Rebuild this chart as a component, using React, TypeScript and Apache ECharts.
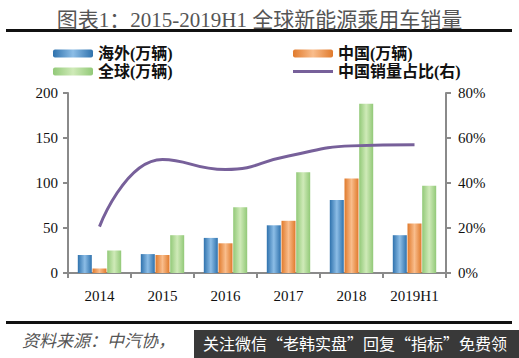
import React, { useEffect, useRef } from "react";
import * as echarts from "echarts";

const categories = ["2014", "2015", "2016", "2017", "2018", "2019H1"];
const overseas = [20, 21, 39, 53, 81, 42];
const china = [5, 20, 33, 58, 105, 55];
const globalSales = [25, 42, 73, 112, 188, 97];
const chinaShare = [20.6, 50.5, 46, 52, 56.5, 57];
const leftTicks = { min: 0, max: 200, interval: 50 };
const rightTicks = { min: 0, max: 80, interval: 20 };

const grad = (edge: string, mid: string) =>
  new echarts.graphic.LinearGradient(0, 0, 1, 0, [
    { offset: 0, color: edge },
    { offset: 0.5, color: mid },
    { offset: 1, color: edge },
  ]);

export default function App() {
  const ref = useRef<HTMLDivElement>(null);
  useEffect(() => {
    if (!ref.current) return;
    const chart = echarts.init(ref.current, undefined, { renderer: "svg" });
    const serif = "'Liberation Serif', 'Noto Sans CJK SC', serif";
    const axisLine = { show: true, lineStyle: { color: "#8a8a8a", width: 2 } };
    const legendText = { fontFamily: serif, fontSize: 16, fontWeight: "bold", color: "#111", lineHeight: 17 };
    const lineColor = "#77609a";
    chart.setOption({
      animation: false,
      backgroundColor: "#fff",
      title: {
        text: "图表1：2015-2019H1 全球新能源乘用车销量",
        left: "center",
        top: 4,
        textStyle: { fontFamily: serif, fontSize: 21, fontWeight: "normal", color: "#555" },
      },
      legend: [
        {
          data: ["海外(万辆)", "全球(万辆)"],
          orient: "vertical",
          left: 48,
          top: 40,
          itemWidth: 40,
          itemHeight: 8,
          itemGap: 1,
          textStyle: legendText,
        },
        {
          data: [
            "中国(万辆)",
            {
              name: "中国销量占比(右)",
              icon: "path://M0,0 L40,0 L40,3 L0,3 Z",
              itemStyle: { color: lineColor },
            },
          ],
          orient: "vertical",
          left: 288,
          top: 40,
          itemWidth: 40,
          itemHeight: 8,
          itemGap: 1,
          textStyle: legendText,
        },
      ],
      grid: { left: 68, right: 73, top: 93, bottom: 85 },
      xAxis: {
        type: "category",
        data: categories,
        boundaryGap: true,
        axisLine,
        axisTick: { show: true, length: 5, lineStyle: { color: "#8a8a8a", width: 2 } },
        axisLabel: { fontFamily: serif, fontSize: 15, color: "#111", margin: 15 },
      },
      yAxis: [
        {
          type: "value",
          ...leftTicks,
          axisLine,
          axisTick: { show: true, length: 5, lineStyle: { color: "#8a8a8a", width: 2 } },
          splitLine: { show: false },
          axisLabel: { fontFamily: serif, fontSize: 15, color: "#111", margin: 10 },
        },
        {
          type: "value",
          ...rightTicks,
          axisLine,
          axisTick: { show: true, length: 5, lineStyle: { color: "#8a8a8a", width: 2 } },
          splitLine: { show: false },
          axisLabel: { fontFamily: serif, fontSize: 15, color: "#111", margin: 12, formatter: "{value}%" },
        },
      ],
      series: [
        {
          name: "海外(万辆)",
          type: "bar",
          data: overseas,
          barWidth: 14,
          barGap: "5%",
          itemStyle: { color: grad("#2f72ad", "#8cbde6") },
        },
        {
          name: "中国(万辆)",
          type: "bar",
          data: china,
          barWidth: 14,
          barGap: "5%",
          itemStyle: { color: grad("#e07a2c", "#f9bd8c") },
        },
        {
          name: "全球(万辆)",
          type: "bar",
          data: globalSales,
          barWidth: 14,
          barGap: "5%",
          itemStyle: { color: grad("#92c978", "#cfeab8") },
        },
        {
          name: "中国销量占比(右)",
          type: "line",
          yAxisIndex: 1,
          data: chinaShare,
          smooth: 0.5,
          symbol: "none",
          lineStyle: { color: lineColor, width: 3 },
          itemStyle: { color: lineColor },
        },
      ],
      graphic: [
        { type: "rect", shape: { x: 6, y: 29, width: 506, height: 3 }, style: { fill: "#111" } },
        { type: "rect", shape: { x: 6, y: 321, width: 506, height: 3 }, style: { fill: "#111" } },
        {
          type: "text",
          x: 22,
          y: 331,
          style: {
            text: "资料来源：中汽协，",
            fontFamily: "'Noto Sans CJK SC', sans-serif",
            fontStyle: "italic",
            fontSize: 17,
            fill: "#555",
          },
        },
        { type: "rect", shape: { x: 194, y: 330, width: 325, height: 28 }, style: { fill: "rgba(40,40,40,0.92)" } },
        {
          type: "text",
          x: 203,
          y: 335,
          style: {
            text: "关注微信“老韩实盘”回复“指标”免费领",
            fontFamily: "'Noto Sans CJK SC', sans-serif",
            fontSize: 16,
            fill: "#fff",
          },
        },
      ],
    });
    return () => chart.dispose();
  }, []);
  return <div ref={ref} style={{ position: "fixed", left: 0, top: 0, width: 519, height: 358 }} />;
}
